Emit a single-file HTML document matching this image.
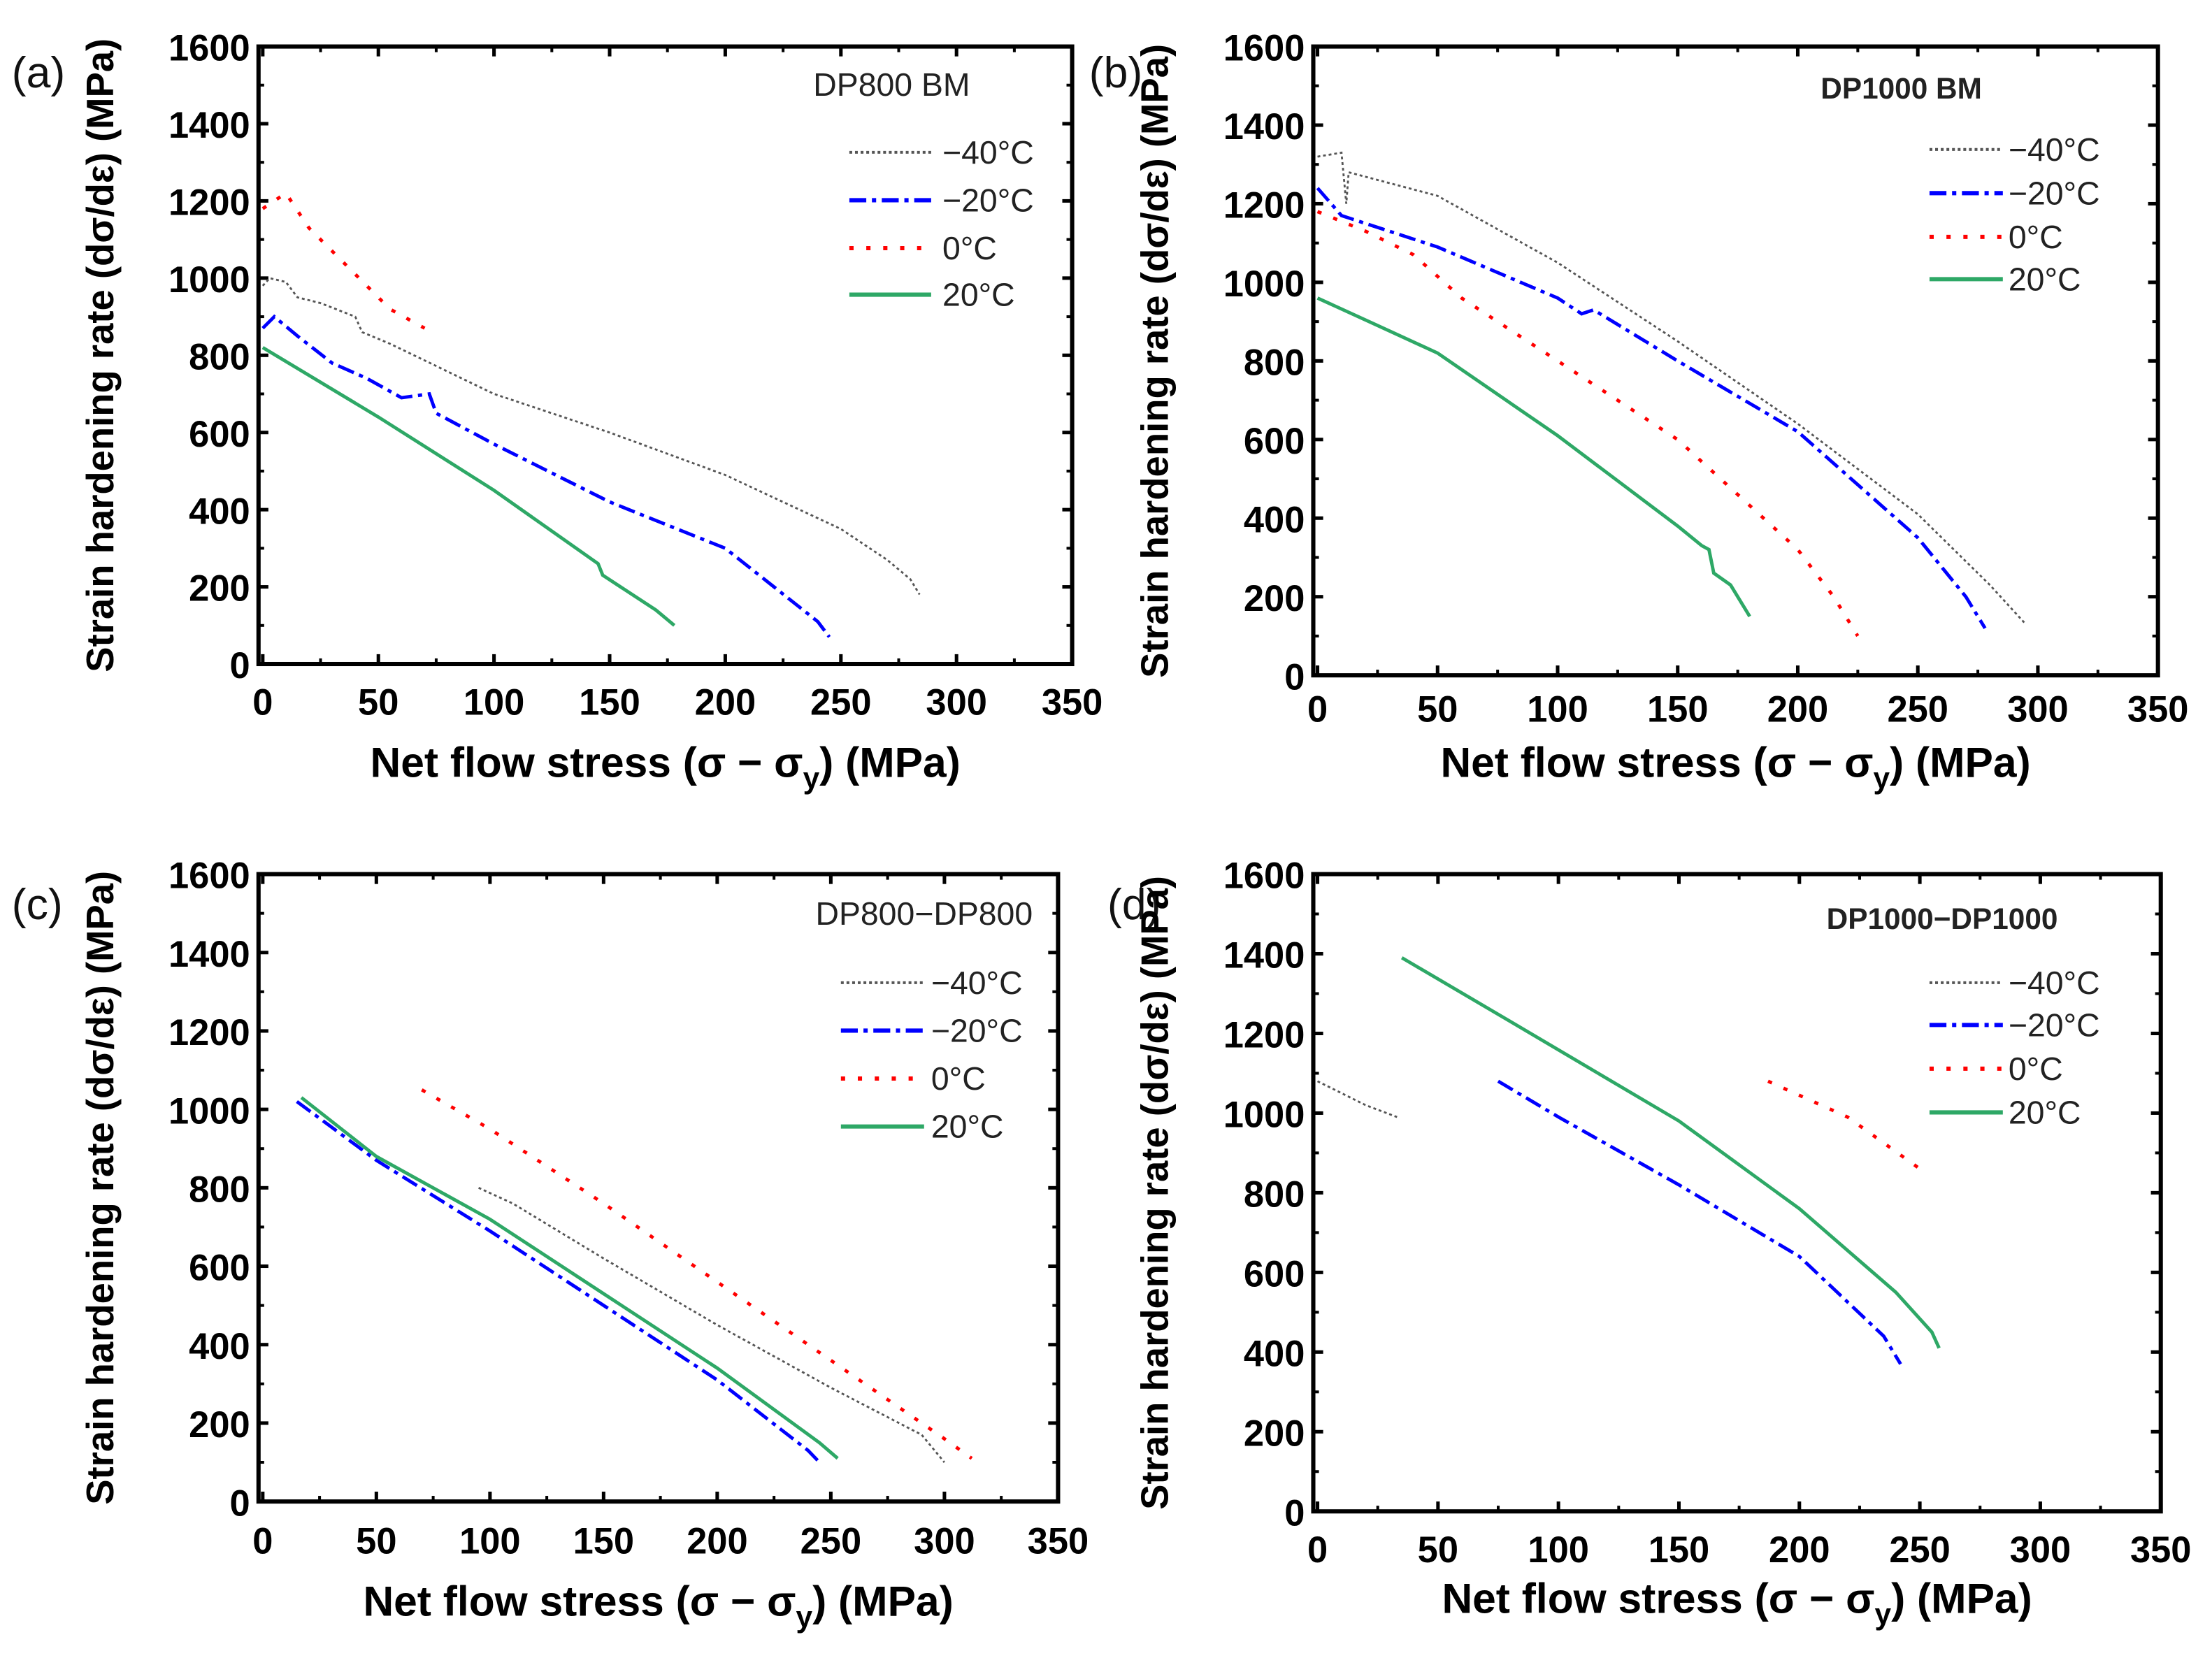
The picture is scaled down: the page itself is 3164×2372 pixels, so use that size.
<!DOCTYPE html>
<html><head><meta charset="utf-8"><style>
html,body{margin:0;padding:0;background:#fff}
svg{display:block}
text{font-family:"Liberation Sans",sans-serif}
</style></head><body>
<svg id="fig" width="3164" height="2372" viewBox="0 0 1568 1176" xmlns="http://www.w3.org/2000/svg"></svg>
<script>
const xTicks=[0,50,100,150,200,250,300,350];
const yTicks=[0,200,400,600,800,1000,1200,1400,1600];
const temps=["\u221240\u00B0C","\u221220\u00B0C","0\u00B0C","20\u00B0C"];
// panel (a) DP800 BM
const aM40=[[0,980],[3,1000],[10,990],[15,950],[25,935],[40,900],[43,860],[55,830],[100,700],[150,600],[200,490],[250,350],[270,270],[280,220],[284,180]];
const aM20=[[0,870],[5,900],[15,850],[30,780],[45,740],[60,690],[72,700],[75,650],[100,570],[150,420],[200,300],[240,110],[245,70]];
const a0=[[0,1180],[10,1220],[20,1130],[40,1010],[55,920],[70,870]];
const a20=[[0,820],[50,640],[100,450],[145,260],[147,230],[170,140],[178,100]];
// panel (b) DP1000 BM
const bM40=[[0,1320],[10,1330],[12,1200],[13,1280],[50,1220],[100,1050],[150,850],[200,640],[250,410],[280,230],[295,130]];
const bM20=[[0,1240],[10,1170],[50,1090],[100,960],[110,920],[115,930],[150,800],[200,620],[250,350],[270,200],[278,120]];
const b0=[[0,1180],[20,1130],[40,1070],[60,960],[100,800],[150,600],[200,320],[215,200],[225,100]];
const b20=[[0,960],[25,890],[50,820],[100,610],[150,380],[160,330],[163,320],[165,260],[172,230],[180,150]];
// panel (c) DP800-DP800
const cM40=[[95,800],[110,760],[150,620],[200,450],[250,290],[290,170],[300,100]];
const cM20=[[15,1020],[50,870],[100,690],[150,500],[200,310],[240,130],[245,100]];
const c0=[[70,1050],[100,950],[150,760],[200,560],[250,360],[300,160],[312,110]];
const c20=[[17,1030],[50,880],[100,720],[150,530],[200,340],[245,150],[253,110]];
// panel (d) DP1000-DP1000
const dM40=[[0,1080],[10,1050],[20,1020],[33,990]];
const dM20=[[75,1080],[100,990],[150,820],[200,640],[235,440],[242,370]];
const d0=[[187,1080],[220,990],[250,860]];
const d20=[[35,1390],[80,1230],[150,980],[200,760],[240,550],[255,450],[258,410]];

const NS="http://www.w3.org/2000/svg";
const svg=document.getElementById('fig');
function el(tag,attrs,parent,txt){const e=document.createElementNS(NS,tag);for(const k in attrs)e.setAttribute(k,attrs[k]);if(txt!==undefined)e.textContent=txt;(parent||svg).appendChild(e);return e;}
const styles=[
 {stroke:"#555",w:1.4,dash:"2,2"},
 {stroke:"#0000ff",w:2.4,dash:"12,4,3,4"},
 {stroke:"#ff0000",w:2.4,dash:"3,9"},
 {stroke:"#2ea866",w:2.4,dash:""}
];
const panels=[
 {id:"a",x0:186,x1:760,y0:471,y1:33,letter:"(a)",lx:8,ly:62,title:"DP800 BM",tx:632,ty:68,bold:false,leg:[602,660,668,[108,142,176,209]],series:[aM40,aM20,a0,a20],xl:507,xt:551},
 {id:"b",x0:934,x1:1530,y0:479,y1:33,letter:"(b)",lx:772,ly:62,title:"DP1000 BM",tx:1348,ty:70,bold:true,leg:[1368,1420,1424,[106,137,168,198]],series:[bM40,bM20,b0,b20],xl:512,xt:551},
 {id:"c",x0:186,x1:750,y0:1065,y1:620,letter:"(c)",lx:8,ly:652,title:"DP800\u2212DP800",tx:655,ty:656,bold:false,leg:[596,655,660,[697,731,765,799]],series:[cM40,cM20,c0,c20],xl:1102,xt:1146},
 {id:"d",x0:934,x1:1532,y0:1072,y1:620,letter:"(d)",lx:785,ly:652,title:"DP1000\u2212DP1000",tx:1377,ty:659,bold:true,leg:[1368,1420,1424,[697,727,758,789]],series:[dM40,dM20,d0,d20],xl:1108,xt:1144}
];
panels.forEach(p=>{
 const g=el('g',{});
 
 
 const sx=v=>p.x0+(p.x1-p.x0)*v/350;
 const sy=v=>p.y0+(p.y1-p.y0)*v/1600;
 const L=sx(0)-3, R=sx(350), T=sy(1600), B=sy(0);
 const clipId='clip'+p.id;
 const cp=el('clipPath',{id:clipId},g);el('rect',{x:L,y:T,width:R-L,height:B-T},cp);
 xTicks.forEach((t,i)=>{
  const x=sx(t);
  el('line',{x1:x,y1:B,x2:x,y2:B-7,stroke:"#000","stroke-width":2.5},g);
  el('line',{x1:x,y1:T,x2:x,y2:T+7,stroke:"#000","stroke-width":2.5},g);
  if(i<xTicks.length-1){const xm=sx(t+25);
   el('line',{x1:xm,y1:B,x2:xm,y2:B-4,stroke:"#000","stroke-width":2},g);
   el('line',{x1:xm,y1:T,x2:xm,y2:T+4,stroke:"#000","stroke-width":2},g);}
  const tl=el('text',{x:x,y:p.xl,"text-anchor":"middle","font-size":26,"font-weight":"bold"},g,String(t));
  
  
 });
 yTicks.forEach((t,i)=>{
  const y=sy(t);
  el('line',{x1:L,y1:y,x2:L+7,y2:y,stroke:"#000","stroke-width":2.5},g);
  el('line',{x1:R,y1:y,x2:R-7,y2:y,stroke:"#000","stroke-width":2.5},g);
  if(i<yTicks.length-1){const ym=sy(t+100);
   el('line',{x1:L,y1:ym,x2:L+4,y2:ym,stroke:"#000","stroke-width":2},g);
   el('line',{x1:R,y1:ym,x2:R-4,y2:ym,stroke:"#000","stroke-width":2},g);}
  const tl=el('text',{x:L-6,y:y+10,"text-anchor":"end","font-size":26,"font-weight":"bold"},g,String(t));
  
  
 });
 p.series.forEach((s,k)=>{
  const st=styles[k];
  const d=s.map((pt,i)=>(i?'L':'M')+sx(pt[0]).toFixed(1)+','+sy(pt[1]).toFixed(1)).join(' ');
  const path=el('path',{d:d,fill:"none",stroke:st.stroke,"stroke-width":st.w,"stroke-dasharray":st.dash,"clip-path":"url(#"+clipId+")"},g);
  
  
 });
 const fr=el('rect',{x:L,y:T,width:R-L,height:B-T,fill:"none",stroke:"#000","stroke-width":3},g);
 
 
 p.leg[3].forEach((y,k)=>{
  const st=styles[k];
  const ln=el('line',{x1:p.leg[0],y1:y,x2:p.leg[1],y2:y,stroke:st.stroke,"stroke-width":st.w+0.6,"stroke-dasharray":st.dash},g);
  
  
  const lt=el('text',{x:p.leg[2],y:y+8,"font-size":23,fill:"#222"},g,temps[k]);
  
  
 });
 const tt=el('text',{x:p.tx,y:p.ty,"text-anchor":"middle","font-size":p.bold?21:23,"font-weight":p.bold?"bold":"normal",fill:"#222","clip-path":"url(#"+clipId+")"},g,p.title);
 
 
 const lt=el('text',{x:p.lx,y:p.ly,"font-size":31,fill:"#111"},g,p.letter);
 
 
 const xt=el('text',{x:(L+R)/2,y:p.xt,"text-anchor":"middle","font-size":30,"font-weight":"bold"},g);
 
 
 xt.appendChild(document.createTextNode('Net flow stress (\u03C3 \u2212 \u03C3'));
 el('tspan',{"font-size":21,dy:8},xt,'y');
 el('tspan',{dy:-8},xt,') (MPa)');
 const cy=(T+B)/2, cx=L-103;
 const yt=el('text',{x:cx,y:cy,"text-anchor":"middle","font-size":27,"font-weight":"bold",transform:"rotate(-90 "+cx+" "+cy+")"},g,'Strain hardening rate (d\u03C3/d\u03B5) (MPa)');
 
 
});
</script>
</body></html>
